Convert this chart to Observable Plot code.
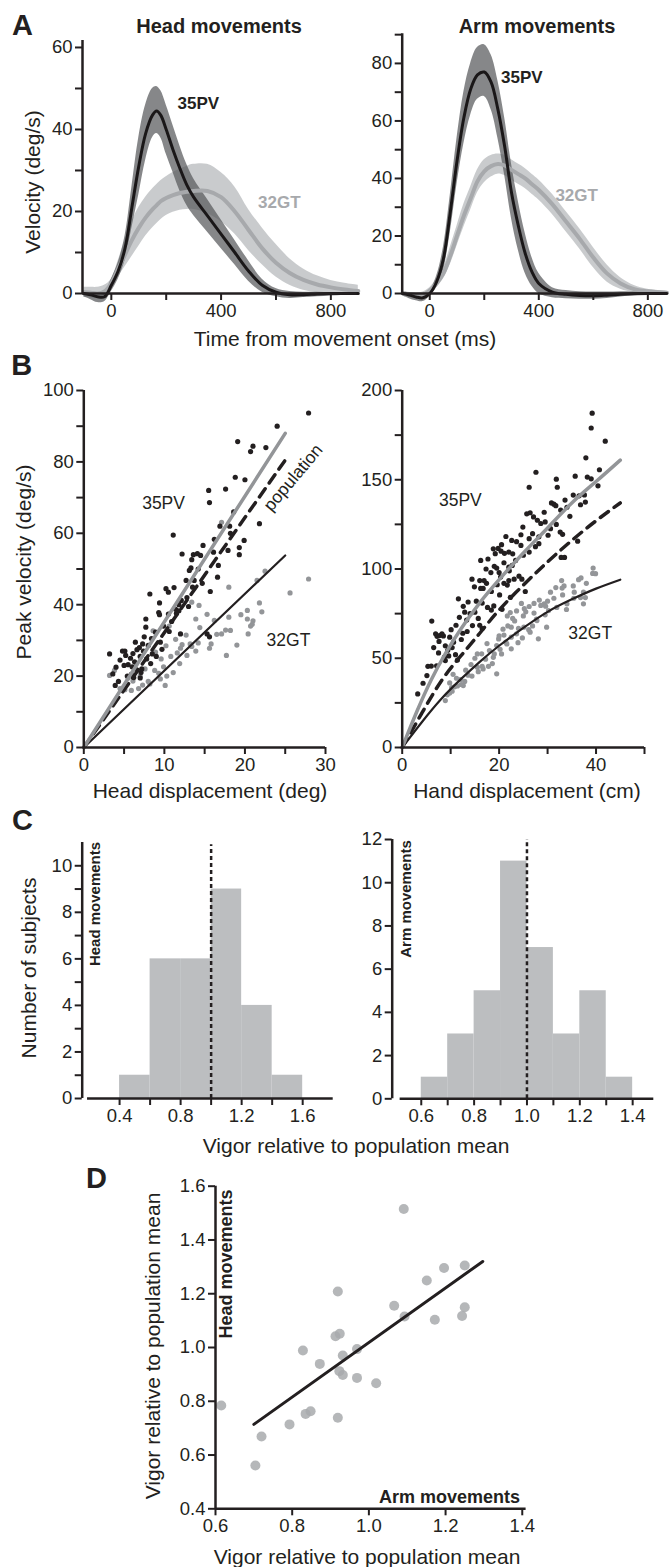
<!DOCTYPE html>
<html><head><meta charset="utf-8">
<script src="https://cdn.jsdelivr.net/npm/d3@7"></script>
<script src="https://cdn.jsdelivr.net/npm/@observablehq/plot@0.6"></script>
<style>
body{margin:0;background:#fff;}
#fig{position:relative;width:670px;height:1567px;overflow:hidden;font-family:"Liberation Sans",Arial,Helvetica,sans-serif;color:#231f20;background:#fff;}
.lbl{position:absolute;white-space:nowrap;line-height:1;transform:translate(-50%,-50%);}
.rot{transform:translate(-50%,-50%) rotate(-90deg);}
.ra{transform:translate(-100%,-50%);}
.b{font-weight:bold;}
</style></head><body><div id="fig"></div><script>
// ---------------- DATA ----------------
// Panel A: velocity profiles (time in ms, velocity deg/s)
const T_HEAD = [-100,-75,-50,-25,0,25,50,75,100,125,150,165,180,200,225,250,275,300,350,400,450,500,550,600,650,700,750,800,850,900];
const HEAD_PV_MEAN = [0,-0.3,-0.8,-0.8,2,5.5,11,21,31,39,43.5,44.5,43.5,40,35,30.5,26.5,23.5,19,14.5,10,5.5,2,0.3,-0.3,-0.3,-0.1,0,0,0];
const HEAD_PV_HI   = [0.5,0.4,0,0.2,3.5,7.5,14,26,38,46,50,50.5,49.5,46,41,36,31.5,28,23,18,13,8,3.5,1.2,0.5,0.3,0.3,0.2,0.1,0];
const HEAD_PV_LO   = [-0.8,-1.5,-2.2,-2,0.5,3.5,8,16,24,32.5,38,39,38,34,29.5,25,21.5,19,15,11,7,3,0.3,-0.8,-1.2,-1,-0.8,-0.6,-0.4,-0.3];
const HEAD_GT_MEAN = [0.3,0.2,0,0.5,2.5,6,9.5,13,16,18.5,20.5,21.5,22.5,23.3,24,24.5,24.8,25,25,23.5,20,15.5,11,7.5,5,3.3,2.2,1.5,1,0.6];
const HEAD_GT_HI   = [1.5,1.5,1.5,2,3.5,8,13,17.5,21,23.5,25.5,26.5,27.5,28.5,29.5,30.3,31,31.5,31.5,29.5,26,20.5,16,12,8.5,6,4.3,3.2,2.5,2];
const HEAD_GT_LO   = [-1,-1.1,-1.2,-0.5,1.5,4,6.5,9,11.5,14,16,17,18,19,19.8,20.3,20.5,20.5,19.5,17.5,14.5,10.5,7,4,2,0.8,0.2,-0.2,-0.4,-0.5];

const T_ARM = [-100,-75,-50,-25,0,25,50,75,100,125,150,175,200,225,250,275,300,325,350,375,400,450,500,550,600,650,700,750,800,870];
const ARM_PV_MEAN = [0,-0.5,-1.2,-1.5,0,4,12,28,46,61,71,76,77,73.5,64,51,35,23.5,14,7.5,3.5,0.5,-0.3,-0.7,-0.8,-0.6,-0.3,-0.1,0,0];
const ARM_PV_HI   = [0.5,0.3,0,0,1,6,16,34,54,70,80,85.5,86.5,83,74,61,45,32,21,12.5,7,2,1,0.6,0.5,0.5,0.6,0.5,0.4,0.3];
const ARM_PV_LO   = [-0.8,-1.8,-2.5,-2.8,-1,2,8,21,38,52,62,67.5,68.5,64,54,41,26,15,7,2.5,0,-1.5,-1.8,-2,-2,-1.7,-1.2,-0.8,-0.5,-0.3];
const ARM_GT_MEAN = [0,-0.2,-0.5,-0.5,1,3.5,7,13,20,27,33,39,42.5,44.3,45,44.5,43,41.5,40,38,36,31,25,19,12.5,7,3.5,1.5,0.8,0.3];
const ARM_GT_HI   = [0.5,0.3,0.2,0.5,2,5,9,16,23.5,31,37,43,46.5,48,48.5,48,46.5,45,43.5,41.5,39.5,34.5,28.5,22.5,16,10,5.5,2.8,1.5,0.8];
const ARM_GT_LO   = [-0.5,-0.8,-1.2,-1.2,0,2,5,10,16.5,23,29,35,38.5,40.5,41.5,41,39.5,38,36.5,34.5,32.5,27.5,21.5,15.5,9,4,1.5,0.3,0,-0.2];

// Panel B: peak velocity vs displacement  [displacement, peak velocity]
const BL_PV = [[27.9,93.7],[24,90],[19.1,85.7],[21,84.4],[20.7,82.9],[18.8,75.7],[20,75],[15.5,72],[17.6,72.4],[15.6,68.6],[18.6,66],[21.8,62.7],[16.9,62],[18.1,62],[11.1,59.5],[18.2,60],[16.2,58.3],[19.9,58],[19.3,56],[19.3,54],[14.8,56.6],[16.1,54.7],[12.2,54.2],[13.6,54],[14.1,54.3],[14.5,53.8],[13.4,52.6],[16.7,51],[13.3,50.3],[13.1,49.6],[14.2,50],[12.7,46.8],[13.7,46.8],[13.5,44.9],[15.7,43.7],[8.2,43],[10.2,44.5],[11.2,44.8],[10.5,43.5],[12.1,41.2],[12.8,42],[9.4,40.5],[11.4,38.7],[11.8,38.3],[9.3,37.8],[9.4,37.2],[7.7,36],[10.5,37.4],[11.5,37.6],[12,31.8],[8.9,32.3],[7.7,33.7],[9.5,29.5],[10.6,32.5],[6.4,29.5],[7.5,31],[8,28.6],[6.9,28],[7.4,27],[3.2,26.2],[4.8,27],[5.1,27],[6.6,27.4],[8.5,26.2],[15.3,31.8],[15.6,31],[3.6,20.6],[3.9,17.4],[5,23],[5.5,23.2],[6,22.6],[5.4,20],[5.9,20.5],[6.2,19.6],[7,19.5],[7.1,21],[7.2,22],[4.3,18.5],[6.4,22],[4.5,24.5],[5.8,25],[6.3,24],[7,25.5],[7.8,24.8],[8.3,23.5],[9,25.5],[9.7,27.5],[4,22.5],[5.2,25.8],[6.1,26.3],[7.3,29],[8.4,30.5],[9.9,34],[10.9,35.3],[11.8,40],[13,39.5],[14.7,46],[16.6,47.7],[17.9,55.2],[22.6,84]];
const BL_GT = [[27.9,47.2],[25.6,43.3],[22.5,49.4],[21.5,46.8],[21.8,40.5],[20.3,38.4],[21,35.5],[20.9,34.5],[20.7,34],[20.3,36],[19.5,37.2],[18,44.9],[18,36.5],[18.2,32.8],[17.6,32.9],[20.4,31.8],[17.1,63.1],[17.1,31.8],[16.5,31.7],[15.8,29],[15.6,27.8],[14.4,33.6],[14.2,29.3],[13.2,29],[13.4,28.3],[12.2,28.8],[12,27.8],[14.3,39.8],[13.4,40.7],[10.6,34],[8.6,32.7],[15.3,37.3],[3.2,20.2],[3.8,21.6],[4.5,16.5],[5.1,16.2],[5.9,16],[6.8,16.5],[8,18.5],[8.8,21.6],[9.3,20.8],[9.9,22.6],[10.3,20],[11.1,21],[11.9,23.5],[10.1,17.4],[8.2,17.8],[6.1,18.6],[7,20],[7.6,22],[9.6,24.8],[10.8,25.5],[11.6,26.5],[12.8,25.8],[13.9,27],[6.5,23.5],[8.9,26.7],[10.2,28.5],[11.4,30.3],[12.7,31.5],[5.5,19.5],[9.5,19.2],[7.3,17.5],[16.2,35.6],[19,28.7],[22.1,38],[13.9,36],[17.7,25.8]];
const BR_PV = [[39.2,187.3],[39,179],[41.9,171.6],[37.9,162.3],[40.7,155.6],[27.6,154.2],[38.2,151.5],[39,150.5],[35.7,152],[26.2,145.8],[31.8,150.3],[32,145.8],[40.4,146.6],[36.5,141],[37.6,141.5],[37.8,137.5],[30.8,137],[31.3,136.3],[31.7,135.5],[34,134.6],[32.7,133],[33.6,138.6],[25.7,130.9],[26.4,131.5],[27.1,129.2],[27.9,127.3],[28.6,125.5],[29.5,126.4],[30.6,122.6],[31.8,125],[32.6,120.7],[33.1,119.4],[36.2,115.6],[30.1,118.9],[28.2,118],[26.9,119.8],[24.9,123.5],[24.5,119.2],[26.2,117],[28.2,114.2],[24.5,113.2],[23.6,115.3],[22.6,116],[21.4,118.2],[20.5,113.6],[19.8,111.5],[20.4,110],[21.1,108.8],[18.8,111.3],[19.2,108.6],[22,109.5],[22.8,108.5],[26.2,109.5],[25,107.7],[32.8,106.5],[33.5,106.5],[16.2,104.8],[17.7,105.6],[21,103.5],[22,101],[22.7,102],[19,101.5],[19.5,100.5],[17.3,100],[18.3,98],[20,98],[22.1,99],[24.1,96],[23.1,94.3],[24.7,94.3],[22,93.5],[21,92],[21.7,91],[19.6,91.2],[17.4,92],[16,93.5],[16.9,93.5],[14.4,94.3],[14.9,90],[16.2,89.1],[16.7,89.1],[18.4,87.4],[20.1,85.5],[22.3,84.1],[25.4,87.4],[11.6,83.3],[13.6,81.5],[15.3,82],[16.5,80.9],[17.6,78.5],[18.4,77],[18.9,79.3],[20.6,77.4],[12.6,79.1],[12.9,75.8],[14,75],[15,75.8],[11.8,72.9],[13.3,71.4],[15.7,72.3],[16,68.5],[16.5,66.6],[11.1,68.5],[6.1,70.8],[7.2,62.3],[7.7,62.7],[8.5,62.5],[6.9,63.7],[8.2,63.7],[9.8,61.8],[8.9,57],[10.6,59],[11,52],[8.7,50.6],[9.6,51.3],[5.3,45.5],[6,45.6],[7.1,45.8],[5.1,40.3],[8.9,48.7],[11.4,49],[9.4,54.5],[10.3,56],[7.6,59.4],[12.2,60.5],[13.4,65],[14.5,68.3],[12.5,64],[6.5,56],[7.5,53],[4.3,36],[3.2,30],[10.1,66],[20.3,95.5],[23.4,104.8],[27.5,112.5],[29.3,131.8],[34.6,129.5],[35.3,141.4],[36.8,136]];
const BR_GT = [[39.4,100.5],[39.3,97.5],[39.9,97.4],[36.4,94],[36.9,95],[32.9,93.5],[33.4,90.5],[33,89.3],[31.7,89.6],[35.3,90.5],[37.4,87],[36.8,84],[37.8,84],[35.4,83.6],[33.1,85.5],[30.6,87],[31.3,83.6],[30,82],[29.3,80.5],[28.6,79.6],[29.6,79.2],[28.3,82.6],[27.2,80.7],[26.2,79],[25.2,77.8],[25.5,76],[24.6,80.7],[23.6,76.5],[22.3,75.6],[21.7,73.7],[25,73.7],[27.7,71.9],[26.9,68.1],[23.2,70.9],[21.8,68.1],[20.8,66.3],[38,92],[37.4,80.5],[34,80.5],[30.2,76.7],[27.8,71.1],[29.8,67.4],[26.4,64.6],[25.1,67.4],[23.6,63.7],[22.5,61.8],[21.4,59],[21.6,58],[19.5,57.1],[19,52.4],[18,54.3],[16.4,52.5],[15.5,52.4],[22.5,67.4],[28.1,60.9],[22.5,55.3],[20.5,52.4],[8.9,26.3],[9.3,29.5],[9.8,30.5],[10.3,31.5],[10.2,33.5],[10.8,34],[11.4,34.5],[12.2,35.3],[12.6,34.7],[12,38],[13.6,40.5],[14.4,40],[15.7,42.5],[16.7,44],[17.8,45.5],[18.6,47],[15.5,45],[16.5,45.5],[19.5,41.3],[13.1,43.3],[14.2,46.5],[17.2,49.5],[18.8,50.5],[20.2,55],[23.9,58.7],[24.8,61.4],[26.1,66],[19.9,60.8],[21,63],[17.5,58.2],[11.2,38.8],[12.9,37],[9.8,36.2],[15,50],[24,66.7],[31.9,78.5],[33.9,77.3],[29.5,74.3],[27.2,75.3],[35.5,87],[22.8,72.3],[20,62.5],[10.5,41]];
// fitted curves
const BL_FIT_PV  = [[0,0],[25,88]];
const BL_FIT_POP = [[0,0],[25,80.5]];
const BL_FIT_GT  = [[0,0],[25,53.8]];
const BR_FIT_PV  = [[0,0],[3,20],[6,38],[9,53],[12,66],[16,81],[20,94],[25,109],[30,123],[35,137],[40,149],[45,161]];
const BR_FIT_POP = [[0,0],[4,19],[8,37],[12,51],[16,64],[20,77],[25,91],[30,104],[35,116],[40,127],[45,137]];
const BR_FIT_GT  = [[0,0],[4,14],[8,27],[12,38],[16,48],[20,57],[25,67],[30,76],[35,83],[40,89],[45,94]];

// Panel C: histograms of vigor
const HEAD_BIN_LO = [0.4,0.6,0.8,1.0,1.2,1.4];
const HEAD_COUNTS = [1,6,6,9,4,1];
const ARM_BIN_LO  = [0.6,0.7,0.8,0.9,1.0,1.1,1.2,1.3];
const ARM_COUNTS  = [1,3,5,11,7,3,5,1];

// Panel D: head vigor vs arm vigor
const D_ARM  = [0.615,0.704,0.72,0.793,0.828,0.835,0.848,0.872,0.913,0.919,0.919,0.924,0.923,0.932,0.932,0.969,0.969,1.019,1.066,1.093,1.091,1.151,1.172,1.196,1.243,1.25,1.25];
const D_HEAD = [0.784,0.561,0.669,0.714,0.989,0.753,0.763,0.939,1.042,1.208,0.739,1.051,0.912,0.898,0.97,0.994,0.887,0.867,1.155,1.115,1.515,1.249,1.103,1.296,1.117,1.15,1.305];
const D_FIT = [[0.7,0.714],[1.297,1.32]];

// tick labels
const A_X_TICKS = [0,200,400,600,800], A_X_LABELS = [0,400,800];
const AL_Y_TICKS = [0,10,20,30,40,50,60], AL_Y_LABELS = [0,20,40,60];
const AR_Y_TICKS = [0,10,20,30,40,50,60,70,80,90], AR_Y_LABELS = [0,20,40,60,80];
const BL_X_TICKS = [0,5,10,15,20,25,30], BL_X_LABELS = [0,10,20,30];
const BL_Y_TICKS = [0,10,20,30,40,50,60,70,80,90,100], BL_Y_LABELS = [0,20,40,60,80,100];
const BR_X_TICKS = [0,10,20,30,40,50], BR_X_LABELS = [0,20,40];
const BR_Y_TICKS = [0,25,50,75,100,125,150,175,200], BR_Y_LABELS = [0,50,100,150,200];
const CL_X_TICKS = [0.4,0.6,0.8,1.0,1.2,1.4,1.6], CL_X_LABELS = [0.4,0.8,1.2,1.6];
const CL_Y_TICKS = [0,1,2,3,4,5,6,7,8,9,10], CL_Y_LABELS = [0,2,4,6,8,10];
const CR_X_TICKS = [0.6,0.7,0.8,0.9,1.0,1.1,1.2,1.3,1.4], CR_X_LABELS = [0.6,0.8,1.0,1.2,1.4];
const CR_Y_TICKS = [0,2,4,6,8,10,12], CR_Y_LABELS = [0,2,4,6,8,10,12];
const D_X_TICKS = [0.6,0.8,1.0,1.2,1.4];
const D_Y_TICKS = [0.4,0.6,0.8,1.0,1.2,1.4,1.6];

// ---------------- DRAWING ----------------
const INK = "#231f20";
const FONT = '"Liberation Sans", Arial, Helvetica, sans-serif';
const fig = document.getElementById("fig");

function panel(box, frame, xdom, ydom, marks) {
  const [L,T,W,H] = box, [fx0,fy0,fx1,fy1] = frame;
  const p = Plot.plot({
    width: W, height: H,
    marginLeft: fx0-L, marginTop: fy0-T, marginRight: L+W-fx1, marginBottom: T+H-fy1,
    x: {domain: xdom, axis: null}, y: {domain: ydom, axis: null},
    style: {background: "transparent", overflow: "visible", fontFamily: FONT, fontSize: "18.5px", color: INK},
    marks
  });
  p.style.position = "absolute"; p.style.left = L + "px"; p.style.top = T + "px";
  fig.append(p);
}
const has = (arr, d) => arr.some(v => Math.abs(v - d) < 1e-9);
function axes(xdom, ydom, xt, xl, yt, yl, fx, fy, xline, yline) {
  return [
    Plot.axisX({ticks: xt, label: null, tickFormat: d => has(xl, d) ? fx(d) : "", tickSize: 7, tickPadding: 3, strokeWidth: 2, color: INK, fontSize: 18.5}),
    Plot.axisY({ticks: yt, label: null, tickFormat: d => has(yl, d) ? fy(d) : "", tickSize: 7, tickPadding: 3, strokeWidth: 2, color: INK, fontSize: 18.5}),
    Plot.ruleY([ydom[0]], {x1: (xline||xdom)[0], x2: (xline||xdom)[1], stroke: INK, strokeWidth: 2.5}),
    Plot.ruleX([xdom[0]], {y1: (yline||ydom)[0], y2: (yline||ydom)[1], stroke: INK, strokeWidth: 2.5})
  ];
}
const num = d => String(d), f1 = d3.format(".1f");
const zipBand = (T, lo, hi, mean) => T.map((t,i) => ({t, lo: lo[i], hi: hi[i], m: mean[i]}));

function velocityPanel(box, frame, xdom, ydom, yt, yl, pv, gt, labels) {
  panel(box, frame, xdom, ydom, [
    Plot.areaY(gt, {x: "t", y1: "lo", y2: "hi", fill: "#bcbec0", fillOpacity: 0.8, curve: "catmull-rom"}),
    Plot.areaY(pv, {x: "t", y1: "lo", y2: "hi", fill: "#58595b", fillOpacity: 0.72, curve: "catmull-rom"}),
    Plot.line(gt, {x: "t", y: "m", stroke: "#a7a9ac", strokeWidth: 4, curve: "catmull-rom"}),
    Plot.line(pv, {x: "t", y: "m", stroke: "#1a1718", strokeWidth: 3, curve: "catmull-rom"}),
    ...axes(xdom, ydom, A_X_TICKS, A_X_LABELS, yt, yl, num, num),
    Plot.text(labels, {x: "x", y: "y", text: "t", fill: "c", fontWeight: "bold", fontSize: 17})
  ]);
}
velocityPanel([0,0,372,335],[82,40,356.7,293],[-105,896],[0,61.7],AL_Y_TICKS,AL_Y_LABELS,
  zipBand(T_HEAD,HEAD_PV_LO,HEAD_PV_HI,HEAD_PV_MEAN), zipBand(T_HEAD,HEAD_GT_LO,HEAD_GT_HI,HEAD_GT_MEAN),
  [{x:317,y:46.3,t:"35PV",c:INK},{x:612,y:22.3,t:"32GT",c:"#a7a9ac"}]);
velocityPanel([340,0,330,335],[401.7,33.3,666.7,293],[-101,871],[0,90.3],AR_Y_TICKS,AR_Y_LABELS,
  zipBand(T_ARM,ARM_PV_LO,ARM_PV_HI,ARM_PV_MEAN), zipBand(T_ARM,ARM_GT_LO,ARM_GT_HI,ARM_GT_MEAN),
  [{x:338,y:75.2,t:"35PV",c:INK},{x:539,y:34.1,t:"32GT",c:"#a7a9ac"}]);

function scatterPanel(box, frame, xdom, ydom, xt, xl, yt, yl, pv, gt, fpv, fpop, fgt, labels, rotLabel) {
  const marks = [
    Plot.dot(gt, {x: d => d[0], y: d => d[1], r: 2.6, fill: "#939598"}),
    Plot.dot(pv, {x: d => d[0], y: d => d[1], r: 2.6, fill: INK}),
    Plot.line(fgt, {x: d => d[0], y: d => d[1], stroke: INK, strokeWidth: 2.2, curve: "natural"}),
    Plot.line(fpop, {x: d => d[0], y: d => d[1], stroke: INK, strokeWidth: 3.5, strokeDasharray: "10,7", curve: "natural"}),
    Plot.line(fpv, {x: d => d[0], y: d => d[1], stroke: "#939598", strokeWidth: 3.5, curve: "natural"}),
    ...axes(xdom, ydom, xt, xl, yt, yl, num, num),
    Plot.text(labels, {x: "x", y: "y", text: "t", fill: INK, fontSize: 17.5})
  ];
  if (rotLabel) marks.push(Plot.text([rotLabel], {x: "x", y: "y", text: "t", fill: INK, fontSize: 17.5, rotate: -50}));
  panel(box, frame, xdom, ydom, marks);
}
scatterPanel([0,380,360,410],[83.3,390,325,747],[0,30],[0,100],BL_X_TICKS,BL_X_LABELS,BL_Y_TICKS,BL_Y_LABELS,
  BL_PV, BL_GT, BL_FIT_PV, BL_FIT_POP, BL_FIT_GT,
  [{x:9.9,y:68.3,t:"35PV"},{x:25.4,y:30,t:"32GT"}], {x:26,y:75.6,t:"population"});
scatterPanel([340,380,330,410],[401.7,390,644,747],[0,50],[0,200],BR_X_TICKS,BR_X_LABELS,BR_Y_TICKS,BR_Y_LABELS,
  BR_PV, BR_GT, BR_FIT_PV, BR_FIT_POP, BR_FIT_GT,
  [{x:12,y:138.4,t:"35PV"},{x:38.8,y:63.9,t:"32GT"}], null);

function histPanel(box, frame, xdom, ydom, xt, xl, yt, yl, lo, counts, w, xline, dashTop, fx) {
  const bins = lo.map((l,i) => ({x1: l, x2: +(l + w).toFixed(3), n: counts[i]}));
  panel(box, frame, xdom, ydom, [
    Plot.rectY(bins, {x1: "x1", x2: "x2", y: "n", fill: "#bcbec0"}),
    Plot.ruleX([1], {y1: 0, y2: dashTop, stroke: INK, strokeWidth: 2.5, strokeDasharray: "4,3"}),
    ...axes(xdom, ydom, xt, xl, yt, yl, fx, num, xline, null)
  ]);
}
histPanel([0,830,370,300],[81.7,842,332.7,1098],[0.155,1.8],[0,11],CL_X_TICKS,CL_X_LABELS,CL_Y_TICKS,CL_Y_LABELS,
  HEAD_BIN_LO, HEAD_COUNTS, 0.2, [0.19,1.8], 10.9, num);
histPanel([340,830,330,300],[391.7,839,653.3,1098.3],[0.49,1.48],[0,12],CR_X_TICKS,CR_X_LABELS,CR_Y_TICKS,CR_Y_LABELS,
  ARM_BIN_LO, ARM_COUNTS, 0.1, [0.52,1.48], 12, f1);

const dPts = D_ARM.map((a,i) => ({a, h: D_HEAD[i]}));
panel([120,1170,430,370],[215,1185.7,525.6,1508.3],[0.6,1.41],[0.4,1.6],[
  Plot.dot(dPts, {x: "a", y: "h", r: 5, fill: "#a8aaad", fillOpacity: 0.85}),
  Plot.line(D_FIT, {x: d => d[0], y: d => d[1], stroke: INK, strokeWidth: 3}),
  ...axes([0.6,1.41],[0.4,1.6], D_X_TICKS, D_X_TICKS, D_Y_TICKS, D_Y_TICKS, f1, f1)
]);

// ---------------- TEXT ----------------
function label(text, x, y, size, cls) {
  const d = document.createElement("div");
  d.className = "lbl " + (cls || "");
  d.textContent = text;
  d.style.left = x + "px"; d.style.top = y + "px"; d.style.fontSize = size + "px";
  fig.append(d);
}
label("A", 22.5, 25, 29, "b");
label("B", 21.7, 365, 29, "b");
label("C", 22.5, 820, 29, "b");
label("D", 96.5, 1178, 29, "b");
label("Head movements", 219, 26, 20, "b");
label("Arm movements", 537, 26, 20, "b");
label("Velocity (deg/s)", 32, 182, 21, "rot");
label("Time from movement onset (ms)", 345, 338, 21);
label("Peak velocity (deg/s)", 23, 562, 21, "rot");
label("Head displacement (deg)", 210, 790, 21);
label("Hand displacement (cm)", 527, 790, 21);
label("Number of subjects", 28, 968, 21, "rot");
label("Head movements", 94, 904, 15, "rot b");
label("Arm movements", 405, 899, 15, "rot b");
label("Vigor relative to population mean", 356, 1145, 21);
label("Vigor relative to population mean", 152, 1346, 21, "rot");
label("Head movements", 226, 1264, 18, "rot b");
label("Arm movements", 520, 1497, 18, "ra b");
label("Vigor relative to population mean", 367, 1556, 21);
</script></body></html>
